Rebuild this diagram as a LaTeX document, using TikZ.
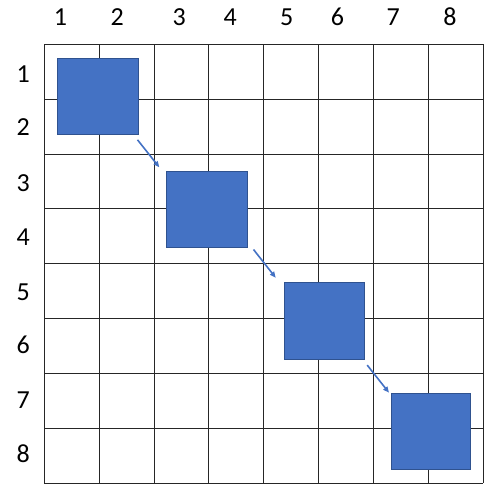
\documentclass[tikz,border=0pt]{standalone}
\usepackage{fontspec}
\setmainfont{Carlito}
\usetikzlibrary{arrows.meta}
\definecolor{boxfill}{HTML}{4472C4}
\definecolor{boxline}{HTML}{2F528F}
\begin{document}
\begin{tikzpicture}[x=1pt,y=-1pt,
  gridline/.style={draw=black!85,line width=1pt},
  bluebox/.style={draw=boxline,fill=boxfill,line width=0.8pt,inner sep=0pt,anchor=north west},
  lbl/.style={font=\fontsize{26}{26}\selectfont,inner sep=0pt},
  movearrow/.style={draw=boxfill,line width=1.6pt,-{Triangle[length=6pt,width=5pt]}}]
\useasboundingbox (0,0) rectangle (502,504);
% grid
\foreach \i in {0,...,8}{
  \draw[gridline] ({44.3+54.85*\i},44.3) -- ({44.3+54.85*\i},483.1);
  \draw[gridline] (44.3,{44.3+54.85*\i}) -- (483.1,{44.3+54.85*\i});
}
% column labels
\foreach \n/\x in {1/60.5,2/117.3,3/179.3,4/230.3,5/286.7,6/337.5,7/393.3,8/450}{
  \node[lbl] (c\n) at (\x,17) {\n};
}
% row labels
\foreach \n/\y in {1/74,2/127,3/183.5,4/237.5,5/292,6/345,7/400,8/453.5}{
  \node[lbl] (r\n) at (23.3,\y) {\n};
}
% boxes
\node[bluebox,minimum width=80.4pt,minimum height=76pt] (s1) at (57.3,58.3) {};
\node[bluebox,minimum width=80.7pt,minimum height=76pt] (s2) at (166,171.3) {};
\node[bluebox,minimum width=79.7pt,minimum height=76.4pt] (s3) at (284,282.3) {};
\node[bluebox,minimum width=79.3pt,minimum height=76pt] (s4) at (391,393.3) {};
% arrows
\draw[movearrow] ([shift={(-1,4.7)}]s1.south east) -- ([shift={(-6.7,-4)}]s2.north west);
\draw[movearrow] ([shift={(6,1.4)}]s2.south east) -- ([shift={(-8.3,-4.6)}]s3.north west);
\draw[movearrow] ([shift={(2.7,5.6)}]s3.south east) -- ([shift={(-2,-0.6)}]s4.north west);
\end{tikzpicture}
\end{document}
